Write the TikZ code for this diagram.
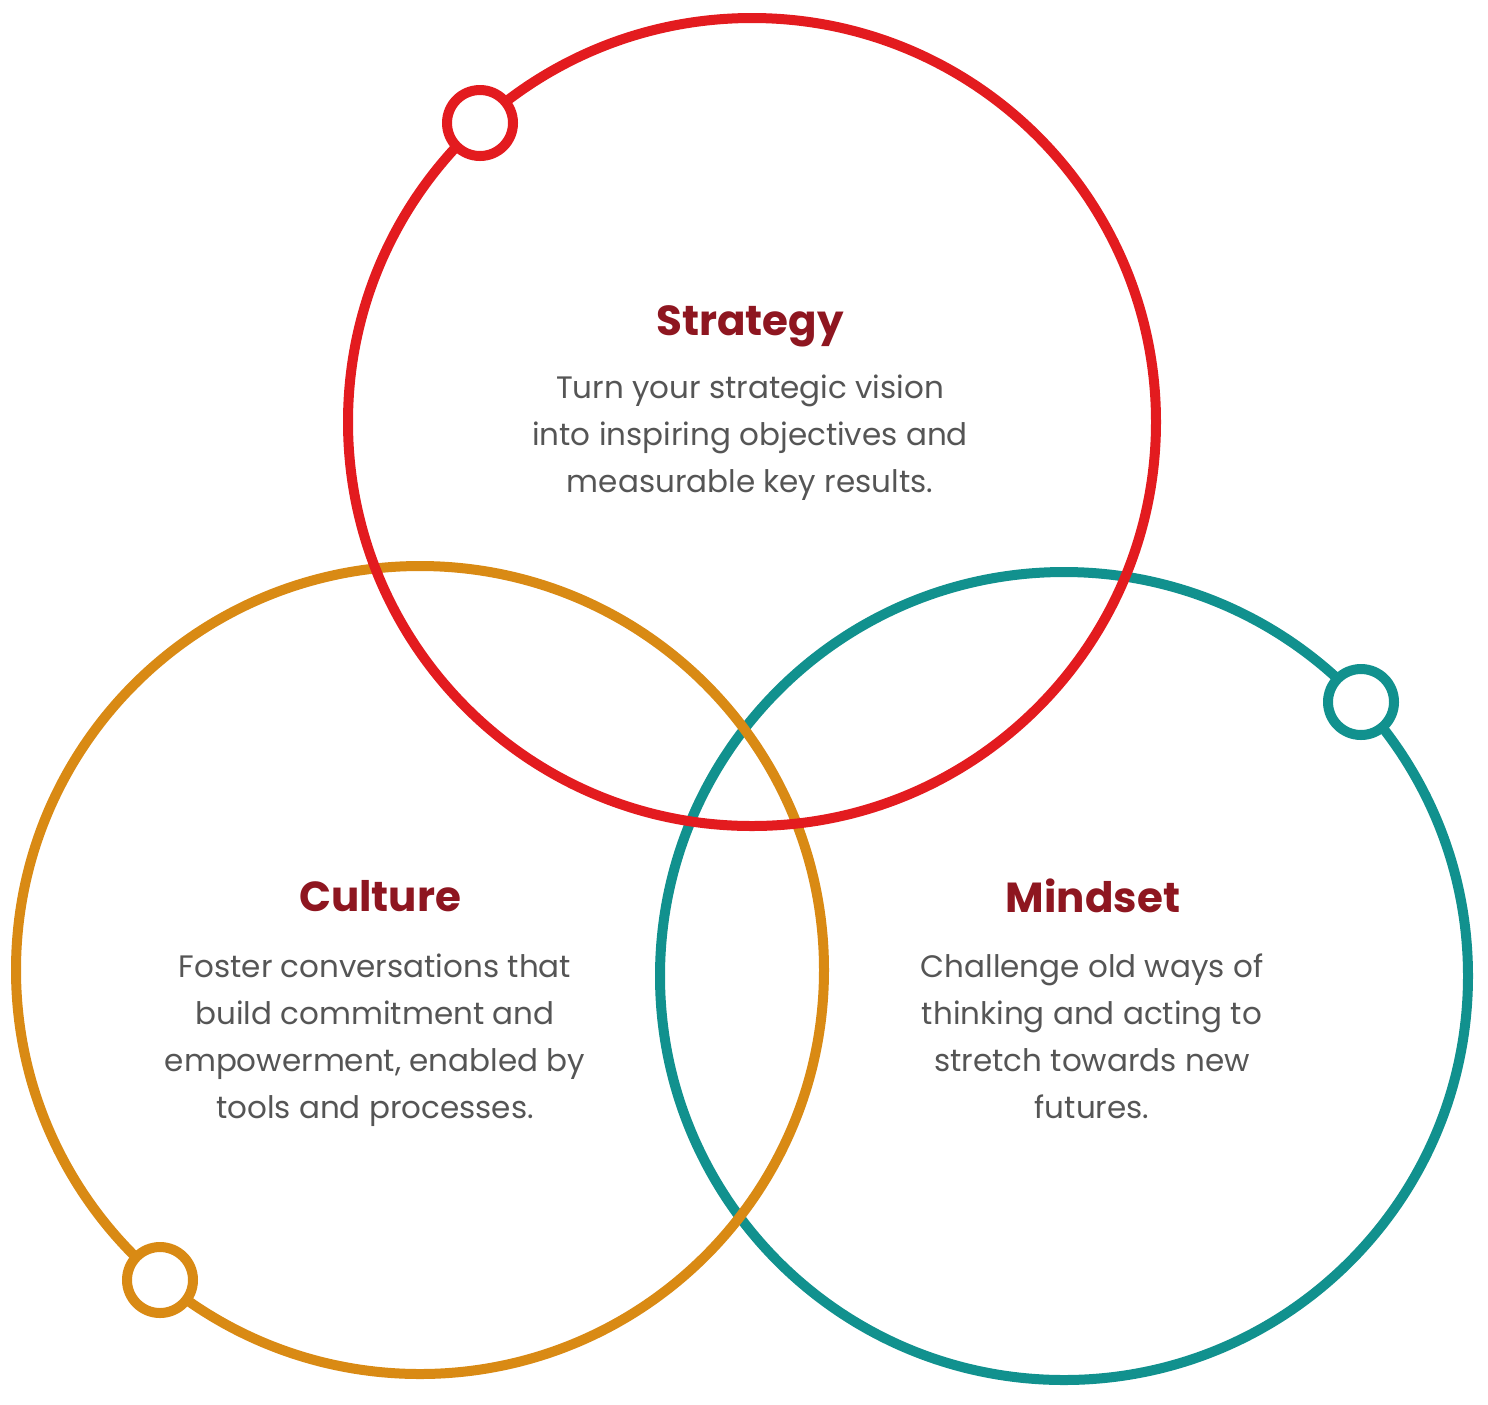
\documentclass[tikz,border=0pt]{standalone}
\usepackage{fontspec}
\setmainfont{Poppins}
\definecolor{strategyred}{HTML}{E31B1F}
\definecolor{cultureorange}{HTML}{D98A14}
\definecolor{mindsetteal}{HTML}{11918E}
\definecolor{titlered}{HTML}{8E1620}
\definecolor{blurbgray}{HTML}{555555}
\begin{document}
\begin{tikzpicture}[x=0.5pt,y=-0.5pt,
    ring/.style={line width=5pt},
    knob/.style={circle,draw,line width=5pt,fill=white,inner sep=0pt,minimum size=33pt},
    title/.style={font=\fontsize{21}{25}\selectfont\bfseries,text=titlered},
    blurb/.style={font=\fontsize{15.5}{23.5}\selectfont,text=blurbgray,align=center}]
  \useasboundingbox (0,0) rectangle (1488,1404);
  % circle centres
  \coordinate (mindset) at (1064,976);
  \coordinate (culture) at (420,970);
  \coordinate (strategy) at (752,422);
  \draw[ring,mindsetteal] (mindset) circle[radius=404];
  \draw[ring,cultureorange] (culture) circle[radius=404];
  \draw[ring,strategyred] (strategy) circle[radius=404];
  % little rings on the big ones
  \node[knob,draw=strategyred] (strategyknob) at (480,123) {};
  \node[knob,draw=mindsetteal] (mindsetknob) at (1361,702) {};
  \node[knob,draw=cultureorange] (cultureknob) at (160,1280) {};
  % texts
  \node[title] (strategytitle) at (750,326) {Strategy};
  \node[blurb] (strategyblurb) at (750,438) {Turn your strategic vision\\into inspiring objectives and\\measurable key results.};
  \node[title] (culturetitle) at (380,896) {Culture};
  \node[blurb] (cultureblurb) at (375,1040) {Foster conversations that\\build commitment and\\empowerment, enabled by\\tools and processes.};
  \node[title] (mindsettitle) at (1093,896) {Mindset};
  \node[blurb] (mindsetblurb) at (1092,1036) {Challenge old ways of\\thinking and acting to\\stretch towards new\\futures.};
\end{tikzpicture}
\end{document}
